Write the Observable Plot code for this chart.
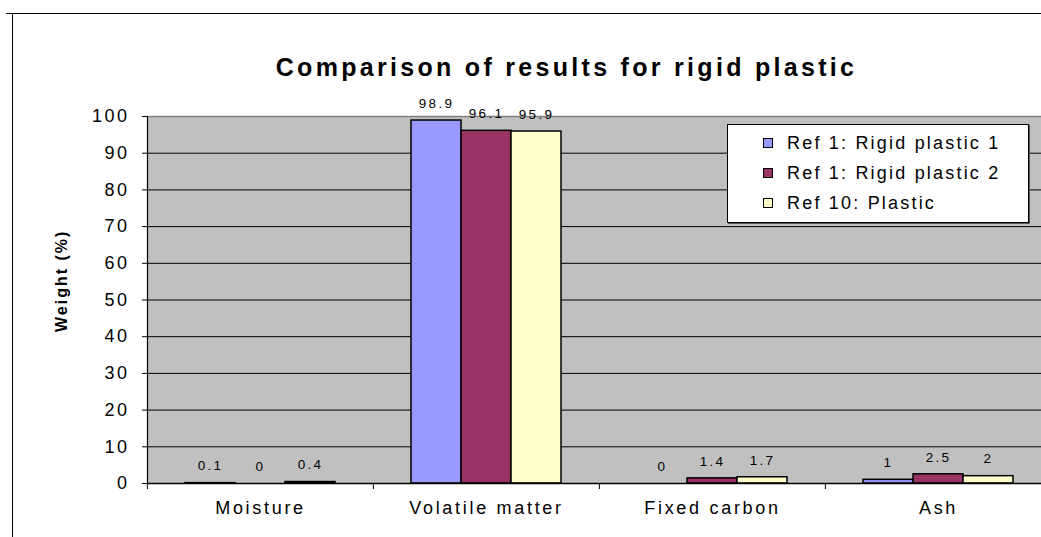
<!DOCTYPE html>
<html><head><meta charset="utf-8">
<script src="https://cdn.jsdelivr.net/npm/d3@7"></script>
<script src="https://cdn.jsdelivr.net/npm/@observablehq/plot@0.6"></script>
<style>
html,body{margin:0;padding:0;background:#fff;overflow:hidden;width:1041px;height:537px}
#wrap{position:relative;width:1041px;height:537px;overflow:hidden;font-family:"Liberation Sans",Arial,sans-serif;color:#000}
#frame{position:absolute;left:12px;top:13px;width:1100px;height:600px;border-top:1px solid #000;border-left:1px solid #000;box-sizing:border-box}
#frame2{position:absolute;left:6px;top:13px;width:10px;border-top:1px solid #000}
#chart{position:absolute;left:0;top:0;width:1060px;height:537px}
#title{position:absolute;left:0;width:1133px;top:52px;line-height:30px;text-align:center;font-weight:bold;font-size:25px;letter-spacing:3.3px;white-space:nowrap}
#legend{position:absolute;left:727px;top:124px;width:302px;height:99px;box-sizing:border-box;background:#fff;border:1px solid #000;padding-top:3px;padding-left:35px;box-shadow:1px 1px 0 #555}
#legend .row{height:30px;display:flex;align-items:center;font-size:18px;letter-spacing:2.2px;white-space:nowrap}
#legend .sw{width:10px;height:10px;box-sizing:border-box;border:1px solid #000;margin-right:14px;flex:none}
.vals text{letter-spacing:2.3px}
.cat text{letter-spacing:2.7px}
.ylab text{letter-spacing:2px}
g[aria-label="y-axis tick label"] text{letter-spacing:2.5px}
</style>
</head><body>
<div id="wrap">
  <div id="frame"></div>
  <div id="frame2"></div>
  <div id="chart"></div>
  <div id="title"></div>
  <div id="legend"></div>
</div>
<script>
const titleText = "Comparison of results for rigid plastic";
const yLabel = "Weight (%)";
const categories = ["Moisture", "Volatile matter", "Fixed carbon", "Ash"];
const seriesNames = ["Ref 1: Rigid plastic 1", "Ref 1: Rigid plastic 2", "Ref 10: Plastic"];
const rigid1 = [0.1, 98.9, 0, 1];
const rigid2 = [0, 96.1, 1.4, 2.5];
const plastic10 = [0.4, 95.9, 1.7, 2];
const yTicks = [0, 10, 20, 30, 40, 50, 60, 70, 80, 90, 100];
const colors = ["#9999FF", "#993366", "#FFFFCC"];

const seriesValues = [rigid1, rigid2, plastic10];
const data = categories.flatMap((c, i) => seriesNames.map((s, j) => ({category: c, series: s, value: seriesValues[j][i]})));

const W = 1060, ML = 146, MR = 9;
const step = (W - ML - MR) / categories.length;

const chart = Plot.plot({
  width: W, height: 537,
  marginLeft: ML, marginRight: MR, marginTop: 116, marginBottom: 54,
  style: {fontFamily: "'Liberation Sans', Arial, sans-serif", fontSize: "18px", background: "transparent", color: "#000", overflow: "visible", maxWidth: "none"},
  fx: {domain: categories, padding: 0, label: null},
  x: {domain: seriesNames, paddingInner: 0, paddingOuter: 0.716, axis: null},
  y: {domain: [0, 100], label: null},
  color: {domain: seriesNames, range: colors},
  marks: [
    Plot.frame({facet: "super", fill: "#C0C0C0"}),
    Plot.ruleY(yTicks.filter(t => t > 0 && t < 100), {stroke: "#000", strokeWidth: 1}),
    Plot.ruleY([100], {stroke: "#808080", strokeWidth: 1.5}),
    Plot.frame({facet: "super", anchor: "left", stroke: "#000", strokeWidth: 1.2}),
    Plot.barY(data, {fx: "category", x: "series", y: "value", fill: "series", stroke: "#000", strokeWidth: 1.5}),
    Plot.text(data, {fx: "category", x: "series", y: "value", text: d => String(d.value), dy: -17, fontSize: 13.5, className: "vals"}),
    Plot.ruleY([0], {stroke: "#000", strokeWidth: 1.5}),
    Plot.axisY({ticks: yTicks, tickSize: 5, tickPadding: 13, label: null, fontSize: 18}),
    Plot.text([yLabel], {facet: "super", frameAnchor: "left", rotate: -90, dx: -86, dy: 32, lineAnchor: "middle", fontWeight: "bold", fontSize: 16, className: "ylab"}),
    Plot.axisFx({anchor: "bottom", tickSize: 0, tickPadding: 18, label: null, fontSize: 18, className: "cat"}),
    Plot.axisFx({anchor: "bottom", tickSize: 6, tickFormat: () => "", dx: -step / 2, label: null})
  ]
});
document.getElementById("chart").appendChild(chart);

document.getElementById("title").textContent = titleText;
const legend = document.getElementById("legend");
seriesNames.forEach((s, i) => {
  const row = document.createElement("div");
  row.className = "row";
  const sw = document.createElement("span");
  sw.className = "sw";
  sw.style.background = colors[i];
  const t = document.createElement("span");
  t.textContent = s;
  row.appendChild(sw); row.appendChild(t);
  legend.appendChild(row);
});
</script>
</body></html>
